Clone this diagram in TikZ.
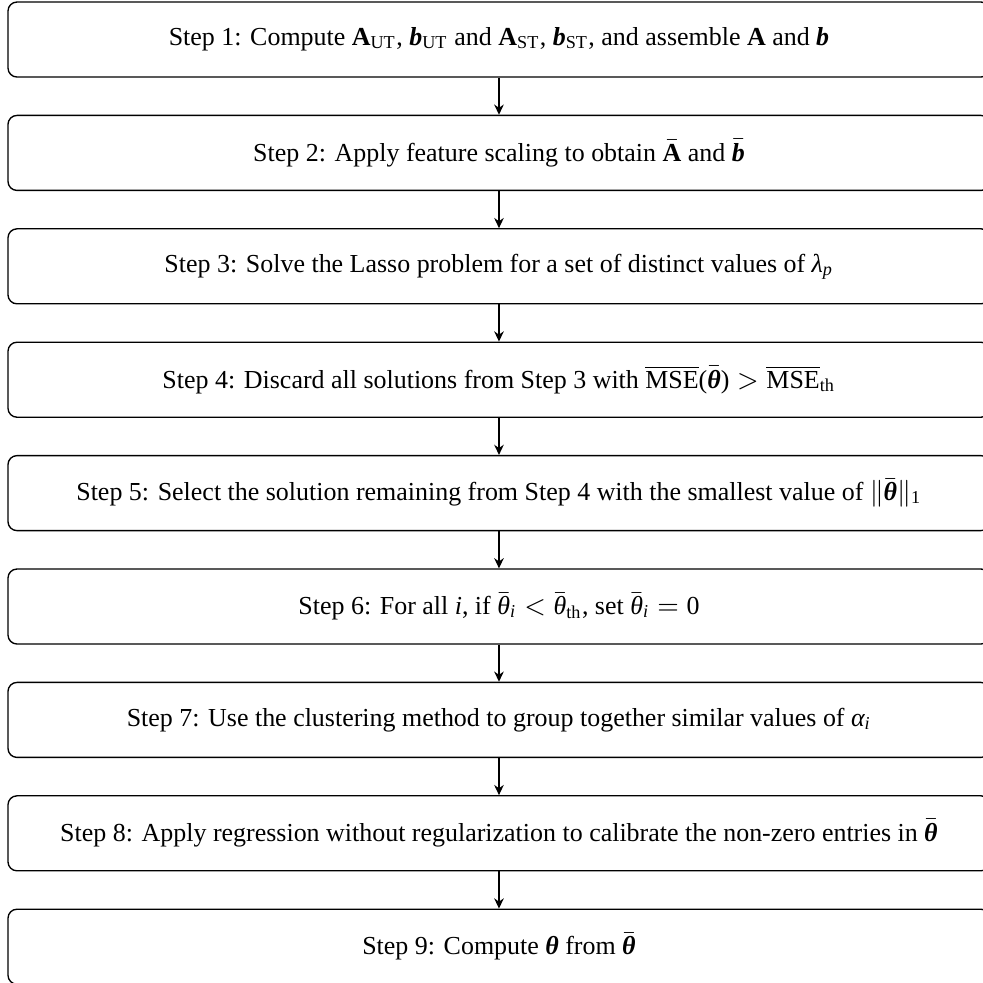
\documentclass[tikz,border=0pt]{standalone}
\usepackage{amsmath}
\usepackage{fontspec}
\setmainfont{Liberation Serif}
\usetikzlibrary{arrows.meta}
\newcommand{\mytht}{\text{\normalfont\itshape θ}}
\newcommand{\mybtht}{\text{\normalfont\bfseries\itshape θ}}
\newcommand{\mybb}{\text{\normalfont\bfseries\itshape b}}
\newcommand{\myA}{\text{\normalfont\bfseries A}}
\newcommand{\myit}[1]{\text{\normalfont\itshape #1}}
\newcommand{\myrm}[1]{\text{\normalfont #1}}
\tikzset{
  stepbox/.style={draw, rounded corners=3pt, line width=0.45pt,
    minimum width=327.33pt, minimum height=25pt, inner sep=0pt,
    font=\fontsize{8.65}{10.4}\selectfont},
  arr/.style={line width=0.45pt, -{Stealth[length=3.4pt,width=3.2pt]}}
}
\begin{document}
\begin{tikzpicture}
\useasboundingbox (0,0) rectangle (327.67pt,-327.67pt);
\node[stepbox] (s1) at (166.33pt,-13.17pt) {Step 1: Compute $\myA_{\myrm{UT}}$, $\mybb_{\myrm{UT}}$ and $\myA_{\myrm{ST}}$, $\mybb_{\myrm{ST}}$, and assemble $\myA$ and $\mybb$};
\node[stepbox] (s2) at (166.33pt,-50.97pt) {Step 2: Apply feature scaling to obtain $\bar{\myA}$ and $\bar{\mybb}$};
\node[stepbox] (s3) at (166.33pt,-88.77pt) {Step 3: Solve the Lasso problem for a set of distinct values of $\myit{λ}_{\myit{p}}$};
\node[stepbox] (s4) at (166.33pt,-126.57pt) {Step 4: Discard all solutions from Step 3 with $\overline{\myrm{MSE}}\myrm{(}\bar{\mybtht}\myrm{)} > \overline{\myrm{MSE}}_{\myrm{th}}$};
\node[stepbox] (s5) at (166.33pt,-164.37pt) {Step 5: Select the solution remaining from Step 4 with the smallest value of $\|\bar{\mybtht}\|_{\myrm{1}}$};
\node[stepbox] (s6) at (166.33pt,-202.17pt) {Step 6: For all $\myit{i}$, if $\bar{\mytht}_{\myit{i}} < \bar{\mytht}_{\myrm{th}}$, set $\bar{\mytht}_{\myit{i}} = \myrm{0}$};
\node[stepbox] (s7) at (166.33pt,-239.97pt) {Step 7: Use the clustering method to group together similar values of $\myit{α}_{\myit{i}}$};
\node[stepbox] (s8) at (166.33pt,-277.77pt) {Step 8: Apply regression without regularization to calibrate the non-zero entries in $\bar{\mybtht}$};
\node[stepbox] (s9) at (166.33pt,-315.57pt) {Step 9: Compute $\mybtht$ from $\bar{\mybtht}$};
\draw[arr] (s1) -- (s2);
\draw[arr] (s2) -- (s3);
\draw[arr] (s3) -- (s4);
\draw[arr] (s4) -- (s5);
\draw[arr] (s5) -- (s6);
\draw[arr] (s6) -- (s7);
\draw[arr] (s7) -- (s8);
\draw[arr] (s8) -- (s9);
\end{tikzpicture}
\end{document}
